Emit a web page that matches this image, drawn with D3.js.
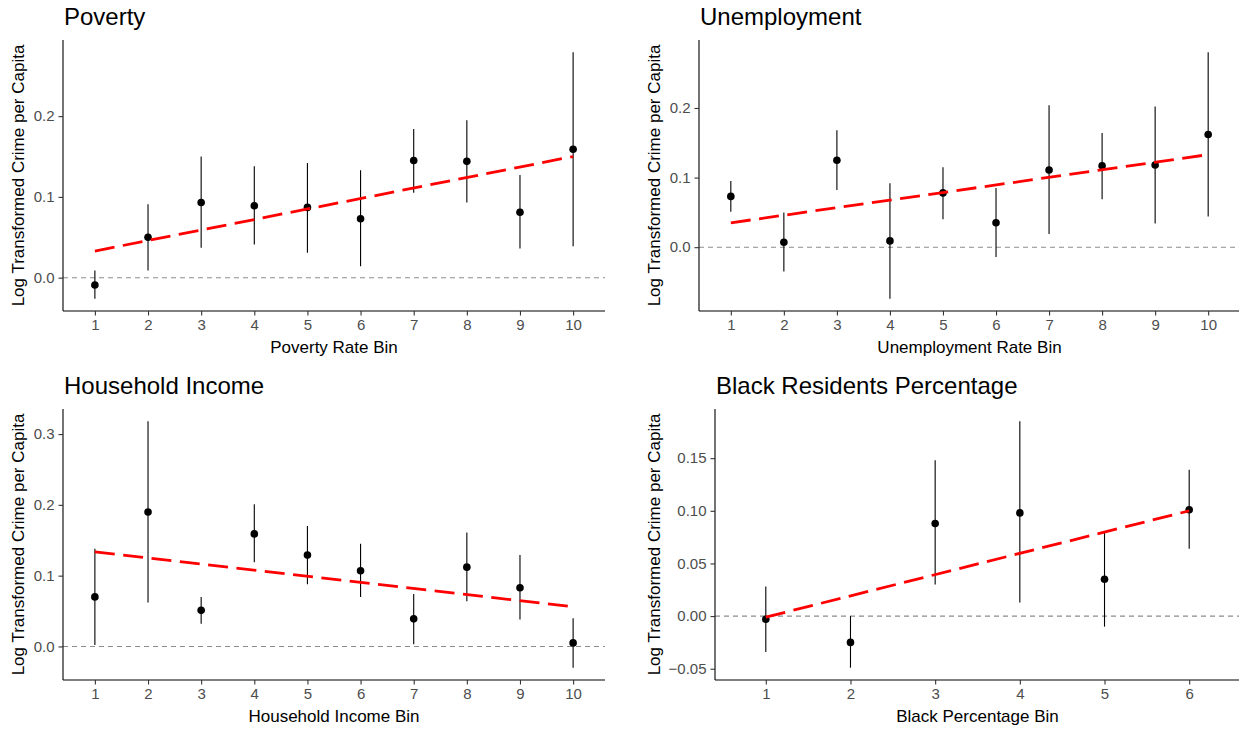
<!DOCTYPE html>
<html>
<head>
<meta charset="utf-8">
<script src="https://cdn.jsdelivr.net/npm/d3@7"></script>
<style>
  body { margin: 0; background: #fff; }
  svg { display: block; font-family: "Liberation Sans", Arial, sans-serif; }
</style>
</head>
<body>
<svg id="chart" width="1239" height="729"></svg>
<script>
// bins
const bins10 = [1, 2, 3, 4, 5, 6, 7, 8, 9, 10];
const bins6 = [1, 2, 3, 4, 5, 6];

// poverty
const povertyEst = [-0.009, 0.050, 0.093, 0.089, 0.087, 0.073, 0.145, 0.144, 0.081, 0.159];
const povertyLo  = [-0.026, 0.009, 0.037, 0.041, 0.031, 0.014, 0.105, 0.093, 0.036, 0.039];
const povertyHi  = [0.009, 0.091, 0.150, 0.138, 0.142, 0.133, 0.184, 0.195, 0.127, 0.279];
const povertyTrend = [0.033, 0.150];

// unemployment
const unempEst = [0.073, 0.007, 0.125, 0.009, 0.078, 0.035, 0.111, 0.117, 0.118, 0.162];
const unempLo  = [0.051, -0.035, 0.082, -0.074, 0.040, -0.014, 0.019, 0.069, 0.034, 0.044];
const unempHi  = [0.095, 0.050, 0.168, 0.092, 0.115, 0.085, 0.204, 0.164, 0.202, 0.280];
const unempTrend = [0.035, 0.133];

// household income
const incomeEst = [0.070, 0.190, 0.051, 0.159, 0.129, 0.107, 0.039, 0.112, 0.083, 0.005];
const incomeLo  = [0.002, 0.062, 0.032, 0.119, 0.088, 0.070, 0.003, 0.064, 0.038, -0.030];
const incomeHi  = [0.138, 0.318, 0.070, 0.201, 0.170, 0.145, 0.074, 0.161, 0.129, 0.040];
const incomeTrend = [0.1335, 0.056];

// black residents percentage
const blackEst = [-0.003, -0.025, 0.088, 0.098, 0.035, 0.101];
const blackLo  = [-0.034, -0.049, 0.030, 0.013, -0.010, 0.064];
const blackHi  = [0.028, 0.000, 0.148, 0.185, 0.080, 0.139];
const blackTrend = [-0.001, 0.100];

const ticks1 = [0.0, 0.1, 0.2];
const ticks3 = [0.0, 0.1, 0.2, 0.3];
const ticks4 = [-0.05, 0.00, 0.05, 0.10, 0.15];

const yTitle = "Log Transformed Crime per Capita";

let panels = [
  {title: "Poverty", xlab: "Poverty Rate Bin", bins: bins10, est: povertyEst, lo: povertyLo, hi: povertyHi,
   trend: povertyTrend, ticks: ticks1, fmt: ".1f", box: {l: 63, r: 605, t: 40, b: 311}, titleX: 64, ytX: 24},
  {title: "Unemployment", xlab: "Unemployment Rate Bin", bins: bins10, est: unempEst, lo: unempLo, hi: unempHi,
   trend: unempTrend, ticks: ticks1, fmt: ".1f", box: {l: 699, r: 1240, t: 40, b: 311}, titleX: 700, ytX: 660},
  {title: "Household Income", xlab: "Household Income Bin", bins: bins10, est: incomeEst, lo: incomeLo, hi: incomeHi,
   trend: incomeTrend, ticks: ticks3, fmt: ".1f", box: {l: 63, r: 605, t: 409, b: 680}, titleX: 64, ytX: 24},
  {title: "Black Residents Percentage", xlab: "Black Percentage Bin", bins: bins6, est: blackEst, lo: blackLo, hi: blackHi,
   trend: blackTrend, ticks: ticks4, fmt: ".2f", box: {l: 715, r: 1240, t: 409, b: 680}, titleX: 716, ytX: 660}
];

let svg = d3.select("#chart");

panels.forEach(function (p) {
  let box = p.box;
  let n = p.bins.length;

  // discrete x scale, ggplot style padding of 0.6 on each side
  let x = d3.scaleLinear()
    .domain([1 - 0.6, n + 0.6])
    .range([box.l, box.r]);

  // y domain = all values + 0, expanded 5%
  let all = p.lo.concat(p.hi, p.est, p.trend, [0]);
  let ymin = d3.min(all), ymax = d3.max(all);
  let pad = (ymax - ymin) * 0.05;
  let y = d3.scaleLinear()
    .domain([ymin - pad, ymax + pad])
    .range([box.b, box.t]);

  let g = svg.append("g");

  // zero reference line
  g.append("line")
    .attr("x1", box.l).attr("x2", box.r)
    .attr("y1", y(0)).attr("y2", y(0))
    .attr("stroke", "#8c8c8c")
    .attr("stroke-width", 1.1)
    .attr("stroke-dasharray", "5,4");

  // error bars
  g.selectAll(".err")
    .data(p.bins)
    .enter().append("line")
    .attr("x1", function (d) { return x(d); })
    .attr("x2", function (d) { return x(d); })
    .attr("y1", function (d, i) { return y(p.lo[i]); })
    .attr("y2", function (d, i) { return y(p.hi[i]); })
    .attr("stroke", "#000")
    .attr("stroke-width", 1.1);

  // points
  g.selectAll(".pt")
    .data(p.bins)
    .enter().append("circle")
    .attr("cx", function (d) { return x(d); })
    .attr("cy", function (d, i) { return y(p.est[i]); })
    .attr("r", 3.8)
    .attr("fill", "#000");

  // fitted trend
  g.append("line")
    .attr("x1", x(p.bins[0])).attr("x2", x(p.bins[n - 1]))
    .attr("y1", y(p.trend[0])).attr("y2", y(p.trend[1]))
    .attr("stroke", "#ff0000")
    .attr("stroke-width", 2.8)
    .attr("stroke-dasharray", "20,8.5");

  // axes
  let xAxis = d3.axisBottom(x).tickValues(p.bins).tickFormat(d3.format("d")).tickSizeInner(4.5).tickSizeOuter(0).tickPadding(4);
  let gx = g.append("g").attr("transform", "translate(0," + box.b + ")").call(xAxis);

  let yAxis = d3.axisLeft(y).tickValues(p.ticks).tickFormat(d3.format(p.fmt)).tickSizeInner(4.5).tickSizeOuter(0).tickPadding(4);
  let gy = g.append("g").attr("transform", "translate(" + box.l + ",0)").call(yAxis);

  [gx, gy].forEach(function (a) {
    a.select(".domain").attr("stroke", "#000").attr("stroke-width", 1.1);
    a.selectAll(".tick line").attr("stroke", "#333").attr("stroke-width", 1.1);
    a.selectAll(".tick text")
      .attr("fill", "#4d4d4d")
      .attr("font-size", 15)
      .attr("font-family", "Liberation Sans, Arial, sans-serif");
  });
  gx.select(".domain").attr("d", "M" + box.l + ",0H" + box.r);
  gy.select(".domain").attr("d", "M0," + box.t + "V" + box.b);

  // titles
  g.append("text")
    .attr("x", p.titleX)
    .attr("y", box.t - 15)
    .attr("font-size", 24)
    .attr("fill", "#000")
    .text(p.title);

  g.append("text")
    .attr("x", (box.l + box.r) / 2)
    .attr("y", box.b + 42)
    .attr("text-anchor", "middle")
    .attr("font-size", 17)
    .attr("fill", "#000")
    .text(p.xlab);

  g.append("text")
    .attr("transform", "translate(" + p.ytX + "," + ((box.t + box.b) / 2) + ") rotate(-90)")
    .attr("text-anchor", "middle")
    .attr("font-size", 17)
    .attr("fill", "#000")
    .text(yTitle);
});
</script>
</body>
</html>
